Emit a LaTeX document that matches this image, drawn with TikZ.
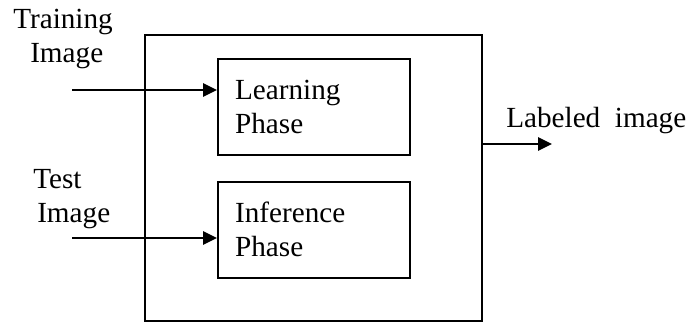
\documentclass[tikz,border=0pt]{standalone}
\usepackage{fontspec}
\setmainfont{Liberation Serif}
\usetikzlibrary{arrows.meta}
\begin{document}
\begin{tikzpicture}[x=0.75pt,y=-0.75pt,
  every node/.style={font=\fontsize{21.9pt}{25.5pt}\selectfont},
  boxline/.style={draw, line width=1.2pt},
  phasebox/.style={boxline, anchor=north west, minimum width=144pt, minimum height=72pt,
     text width=118pt, inner xsep=13pt, align=left},
  lbl/.style={align=left, inner sep=0pt, anchor=base west},
  arr/.style={line width=1.2pt, -{Triangle[length=10.5pt,width=10pt]}}]
\useasboundingbox (0,0) rectangle (689,322);
\node[boxline, anchor=north west, minimum width=252.75pt, minimum height=214.5pt, inner sep=0pt] (outer) at (144,34) {};
\node[phasebox] (learn) at (217,58) {Learning\\Phase};
\node[phasebox] (infer) at (217,181) {Inference\\Phase};
\node[lbl] (train) at (13,62) {Training\\\hspace*{12.75pt}Image};
\node[lbl] (test) at (33,222) {Test\\\hspace*{3pt}Image};
\node[lbl] (labeled) at (506,127) {Labeled\ \ image};
\coordinate (tin) at (72,90);
\coordinate (sin) at (72,238);
\coordinate (oend) at (552,144);
\draw[arr] (tin) -- (tin -| learn.west);
\draw[arr] (sin) -- (sin -| infer.west);
\draw[arr] (oend -| outer.east) -- (oend);
\end{tikzpicture}
\end{document}
